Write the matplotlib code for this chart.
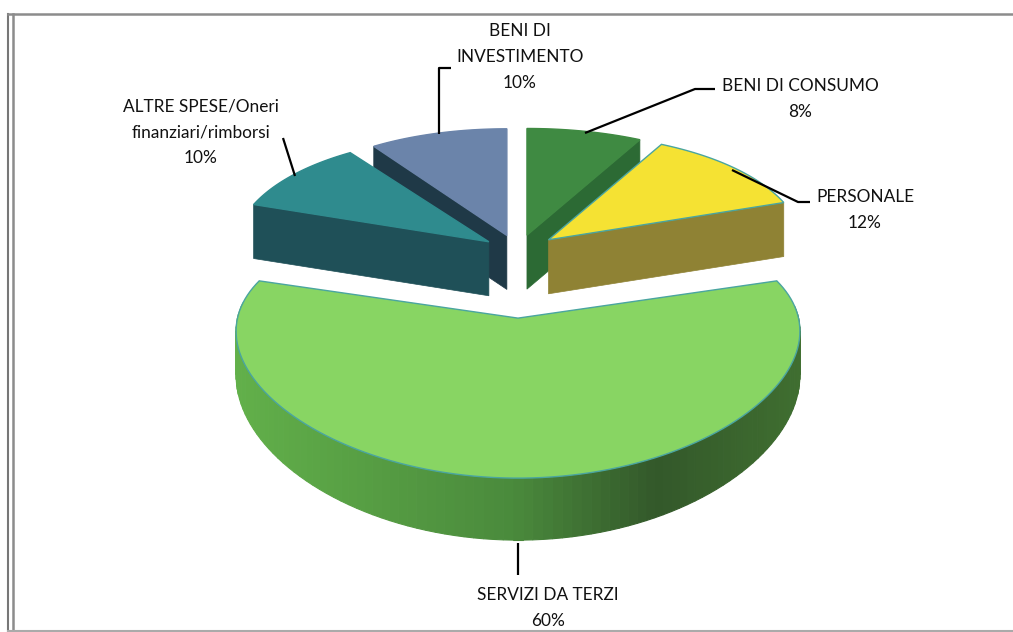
"""Exploded pseudo-3D pie of the expense breakdown."""

import numpy as np
import matplotlib
matplotlib.use('Agg')
import matplotlib.pyplot as plt
from matplotlib.colors import to_rgb
from matplotlib.patches import Polygon

# Chart data, clockwise from 12 o'clock
categories = ['BENI DI CONSUMO', 'PERSONALE', 'SERVIZI DA TERZI',
              'ALTRE SPESE/Oneri\nfinanziari/rimborsi', 'BENI DI\nINVESTIMENTO']
values = [8, 12, 60, 10, 10]

# Styles per slice
top_colors = ['#3f8a42', '#f5e233', '#88d563', '#2f8b8e', '#6b84aa']
side_colors = ['#2c6a34', '#8f8234', '#4f9a38', '#1f5058', '#1f3947']
edge_colors = ['#3f8a42', '#4aa5a0', '#4aa5a0', '#2f8b8e', '#6b84aa']
explode = [1.0, 1.1, 3.8, 1.0, 1.0]
x_scale = [1.0, 1.0, 1.1, 1.0, 0.96]

# Shading of the big slice wall, left to right
wall_stops = [0.0, 0.5, 0.75, 1.0]
wall_colors = ['#62b04a', '#4a8a3c', '#33582a', '#3f6e30']

# Projection constants, in pixels
CX, CY = 518, 252
EX, EY = 36, 17.4
RX, RY = 255, 128
KX, KY = 0.1, 0.2
DEPTH = 54
WALL_DEPTH, WALL_BULGE = 42, 20


def project(theta, ax_scale=1.0):
    """Offset from the slice apex of a rim point at angle theta (radians)."""
    u, v = np.cos(theta), np.sin(theta)
    return RX * ax_scale * u / (1 + KX * v), -RY * v / (1 + KY * v)


def slice_geometry(i, start, end):
    mid = np.radians((start + end) / 2)
    apex_x = CX + EX * explode[i] * np.cos(mid)
    apex_y = CY - EY * explode[i] * np.sin(mid)
    if i == 2:
        apex_x = CX
    theta = np.radians(np.linspace(start, end, 120))
    dx, dy = project(theta, x_scale[i])
    return apex_x, apex_y, apex_x + dx, apex_y + dy, theta


fig, ax = plt.subplots(figsize=(10.13, 6.32), dpi=100)
fig.subplots_adjust(0, 0, 1, 1)
ax.set_xlim(0, 1013)
ax.set_ylim(632, 0)
ax.axis('off')

# Slice angles from the values
edges = 90 - np.cumsum([0] + values) * 3.6
geo = [slice_geometry(i, edges[i], edges[i + 1]) for i in range(len(values))]


def radial_face(i, rim_index, color):
    apex_x, apex_y, xs, ys, _ = geo[i]
    pts = [(apex_x, apex_y), (xs[rim_index], ys[rim_index]),
           (xs[rim_index], ys[rim_index] + DEPTH), (apex_x, apex_y + DEPTH)]
    ax.add_patch(Polygon(pts, closed=True, fc=color, ec=color, lw=0.5))


def top_face(i):
    apex_x, apex_y, xs, ys, _ = geo[i]
    pts = [(apex_x, apex_y)] + list(zip(xs, ys))
    ax.add_patch(Polygon(pts, closed=True, fc=top_colors[i], ec=edge_colors[i], lw=1))


# Back slices first, then the front ones
for i, rim in [(4, 0), (0, -1), (3, 0), (1, -1)]:
    radial_face(i, rim, side_colors[i])
    top_face(i)

# Big slice: curved wall, deeper towards the viewer
apex_x, apex_y, xs, ys, theta = geo[2]
wall_rgb = np.array([to_rgb(c) for c in wall_colors])
depth = WALL_DEPTH + WALL_BULGE * np.clip(-np.sin(theta), 0, 1)
for j in range(len(xs) - 1):
    if np.sin(theta[j]) > 0.12:
        continue
    t = (xs[j] - xs.min()) / (xs.max() - xs.min())
    col = [np.interp(t, wall_stops, wall_rgb[:, k]) for k in range(3)]
    quad = [(xs[j], ys[j]), (xs[j + 1], ys[j + 1]),
            (xs[j + 1], ys[j + 1] + depth[j + 1]), (xs[j], ys[j] + depth[j])]
    ax.add_patch(Polygon(quad, closed=True, fc=col, ec=col, lw=0.8))
top_face(2)

# Data labels
label_x = [800, 865, 548, 201, 520]
label_y = [99, 210, 608, 132, 57]
for name, val, lx, ly in zip(categories, values, label_x, label_y):
    ax.text(lx, ly, f'{name}\n{val}%', ha='center', va='center', fontsize=12.4,
            family='Lato', color='#111111', linespacing=1.75)

# Leader lines
leaders = [
    ([439, 439, 451], [134, 68, 68]),
    ([295, 283], [176, 138]),
    ([585, 695, 715], [133, 89, 89]),
    ([732, 798, 810], [170, 202, 202]),
    ([518, 518], [543, 575]),
]
for lx, ly in leaders:
    ax.plot(lx, ly, color='black', lw=1.6, solid_capstyle='butt')

# Scanned frame
frame_kw = dict(color='#8c8c8c', lw=1.8)
ax.plot([13, 13], [14, 632], **frame_kw)
ax.plot([8, 8], [14, 632], color='#777777', lw=1.5)
ax.plot([8, 1013], [14, 14], **frame_kw)
ax.plot([8, 1013], [631, 631], color='#aaaaaa', lw=1.5)

fig.savefig('out.png', dpi=100)
